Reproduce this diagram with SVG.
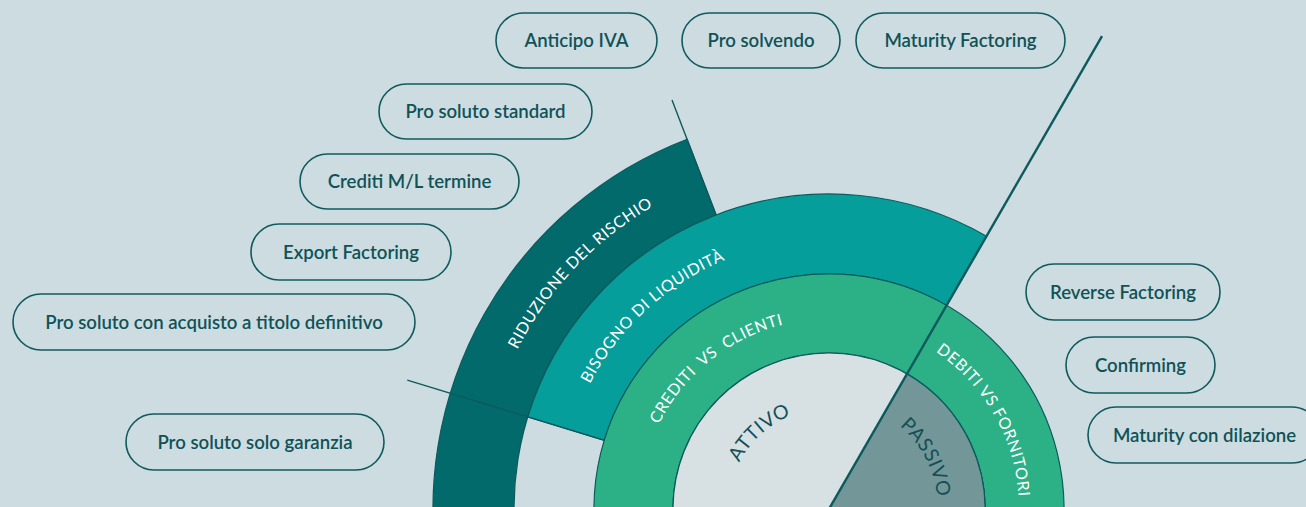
<svg xmlns="http://www.w3.org/2000/svg" width="1306" height="507" viewBox="0 0 1306 507">
<style>
.pill rect{fill:none;stroke:#0f5a5e;stroke-width:1.6}
.pill text{font-family:Lato,"Open Sans",sans-serif;font-weight:600;font-size:18.6px;fill:#0f5357;text-anchor:middle}
.ring{stroke:#0c5a5d;stroke-width:1.2}
.arcw{font-family:Lato,"Open Sans",sans-serif;font-size:16px;fill:#ffffff;letter-spacing:0.6px}
.arcd{font-family:Lato,"Open Sans",sans-serif;font-size:19.5px;fill:#134f55;letter-spacing:0.5px}
.div{stroke:#0c5a5d;fill:none}
</style>
<defs>
<path id="pR" d="M 479.1 518.2 A 350 350 0 0 1 819.8 159.1"/>
<path id="pB" d="M 559.3 497.2 A 270 270 0 0 1 840.8 239.3"/>
<path id="pC" d="M 640.1 488.2 A 190 190 0 0 1 849.8 320.1"/>
<path id="pD" d="M 879.1 325.7 A 190 190 0 0 1 1012.3 559.1"/>
<path id="pA" d="M 728.1 504.1 A 101 101 0 0 1 833.9 408.1"/>
<path id="pP" d="M 861.1 404.8 A 109 109 0 0 1 933.2 541.1"/>
</defs>
<rect width="1306" height="507" fill="#cddce1"/>
<g id="riduzione">
<path class="ring" fill="#036a6c" d="M 687.1 139.3 A 396 396 0 0 0 439.0 577.8 L 518.8 563.7 A 315 315 0 0 1 716.1 214.9 Z"/>
<text class="arcw"><textPath href="#pR" startOffset="50%" text-anchor="middle">RIDUZIONE DEL RISCHIO</textPath></text>
</g>
<g id="bisogno">
<path class="ring" fill="#069e9a" d="M 986.5 236.2 A 315 315 0 0 0 527.8 416.9 L 604.3 440.3 A 235 235 0 0 1 946.5 305.5 Z"/>
<text class="arcw"><textPath href="#pB" startOffset="50%" text-anchor="middle">BISOGNO DI LIQUIDITÀ</textPath></text>
</g>
<g id="ring-green">
<path class="ring" fill="#2cb187" d="M 1060.4 549.8 A 235 235 0 1 0 597.6 549.8 L 675.4 536.1 A 156 156 0 1 1 982.6 536.1 Z"/>
</g>
<g id="crediti">
<text class="arcw" style="word-spacing:4px"><textPath href="#pC" startOffset="50%" text-anchor="middle">CREDITI VS CLIENTI</textPath></text>
</g>
<g id="debiti">
<text class="arcw"><textPath href="#pD" startOffset="50%" text-anchor="middle">DEBITI VS FORNITORI</textPath></text>
</g>
<g id="attivo">
<circle class="ring" cx="829" cy="509" r="156" fill="#d7e0e3"/>
<text class="arcd"><textPath href="#pA" startOffset="50%" text-anchor="middle">ATTIVO</textPath></text>
</g>
<g id="passivo">
<path class="ring" fill="#739799" d="M 829 509 L 907 373.9 A 156 156 0 0 1 982.6 536.1 Z"/>
<text class="arcd"><textPath href="#pP" startOffset="50%" text-anchor="middle">PASSIVO</textPath></text>
</g>
<g id="connectors">
<line class="div" x1="829" y1="509" x2="1102" y2="36.2" stroke-width="2.4"/>
<line class="div" x1="604.3" y1="440.3" x2="407.3" y2="380.1" stroke-width="1.4"/>
<line class="div" x1="716.1" y1="214.9" x2="672" y2="100.1" stroke-width="1.4"/>
</g>
<g id="n-anticipo" class="pill"><rect x="496" y="13" width="161" height="55" rx="27.5"/><text x="576.5" y="47">Anticipo IVA</text></g>
<g id="n-prosolvendo" class="pill"><rect x="682" y="13" width="158" height="55" rx="27.5"/><text x="761" y="47">Pro solvendo</text></g>
<g id="n-maturityfactoring" class="pill"><rect x="856" y="13" width="209" height="55" rx="27.5"/><text x="960.5" y="47">Maturity Factoring</text></g>
<g id="n-prosolutostandard" class="pill"><rect x="379" y="84" width="213" height="55" rx="27.5"/><text x="485.5" y="118">Pro soluto standard</text></g>
<g id="n-creditiml" class="pill"><rect x="300" y="154" width="219" height="55" rx="27.5"/><text x="409.5" y="188">Crediti M/L termine</text></g>
<g id="n-export" class="pill"><rect x="251" y="224" width="200" height="56" rx="28"/><text x="351" y="258.5">Export Factoring</text></g>
<g id="n-acquisto" class="pill"><rect x="13" y="294" width="402" height="56" rx="28"/><text x="214" y="328.5">Pro soluto con acquisto a titolo definitivo</text></g>
<g id="n-garanzia" class="pill"><rect x="126" y="414" width="258" height="56" rx="28"/><text x="255" y="448.5">Pro soluto solo garanzia</text></g>
<g id="n-reverse" class="pill"><rect x="1026" y="264" width="194" height="56" rx="28"/><text x="1123" y="298.5">Reverse Factoring</text></g>
<g id="n-confirming" class="pill"><rect x="1066" y="337" width="149" height="56" rx="28"/><text x="1140.5" y="371.5">Confirming</text></g>
<g id="n-maturitydilazione" class="pill"><rect x="1088" y="407" width="232" height="56" rx="28"/><text x="1204.5" y="441.5">Maturity con dilazione</text></g>
</svg>
